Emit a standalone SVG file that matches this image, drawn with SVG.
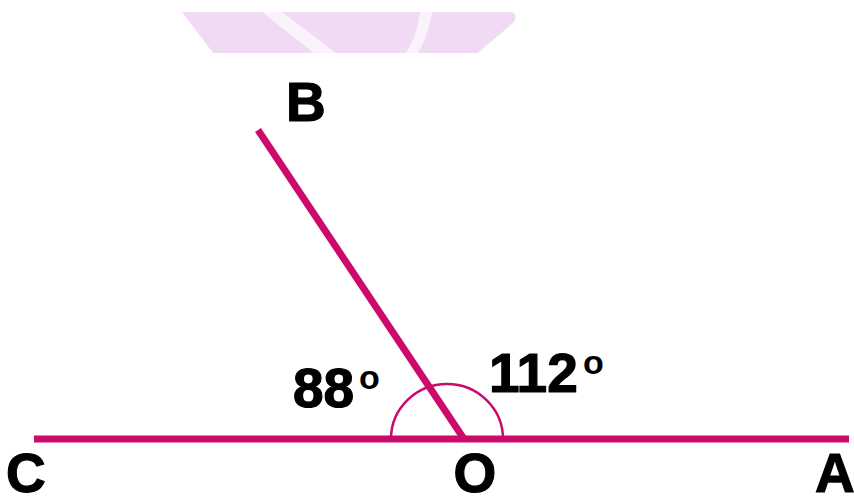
<svg xmlns="http://www.w3.org/2000/svg" width="854" height="498" viewBox="0 0 854 498">
<style>
.ln{stroke:#cc0a6c;stroke-width:7;fill:none}
.lbl{font-family:"Liberation Sans",Arial,sans-serif;font-weight:bold;font-size:55px;fill:#000;stroke:#000;stroke-width:1.2}
.deg{font-family:"Liberation Sans",Arial,sans-serif;font-weight:bold;font-size:34px;fill:#000}
</style>
<rect width="854" height="498" fill="#fff"/>
<g id="watermark">
<path d="M182,12 L512,12 Q518,14 514,22 L478,53 L213,53 Z" fill="#f1dbf4"/>
<path d="M262,12 L282,12 L336,53 L314,53 Z" fill="#fbf3fc"/>
<path d="M420,12 L432,12 Q428,36 418,53 L406,53 Q418,34 420,12 Z" fill="#fbf3fc"/>
</g>
<g id="connectors">
<line class="ln" x1="34" y1="439" x2="849" y2="439"/>
<line class="ln" x1="258" y1="130" x2="464" y2="439"/>
<path d="M391,439 A56,55 0 0 1 503,439" stroke="#cc0a6c" stroke-width="2.5" fill="none"/>
</g>
<g id="B"><text class="lbl" x="286" y="121">B</text></g>
<g id="C"><text class="lbl" x="6" y="492">C</text></g>
<g id="O"><text class="lbl" x="475" y="492" text-anchor="middle">O</text></g>
<g id="A"><text class="lbl" x="815" y="492">A</text></g>
<g id="angle88"><text class="lbl" x="293" y="407">88</text><text class="deg" x="359" y="389">o</text></g>
<g id="angle112"><text class="lbl" x="489" y="392">112</text><text class="deg" x="583" y="374">o</text></g>
</svg>
